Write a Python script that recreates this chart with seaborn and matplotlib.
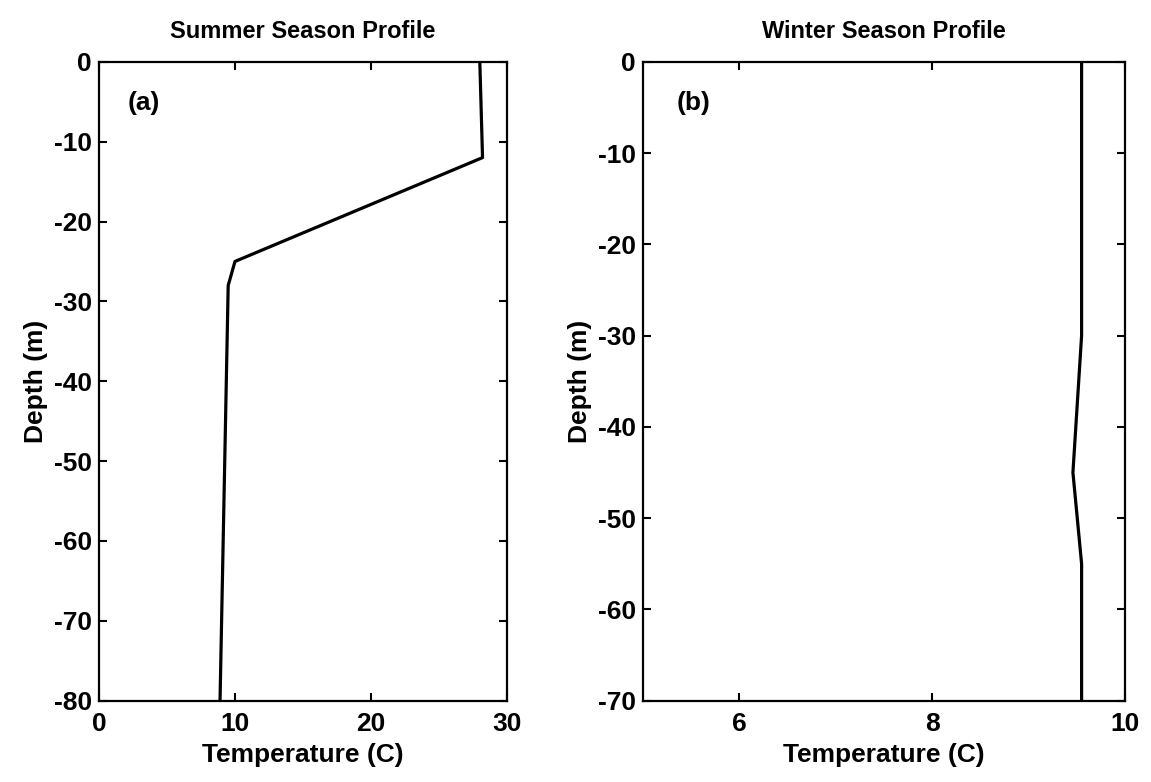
import matplotlib
matplotlib.use("Agg")
import matplotlib.pyplot as plt
import pandas as pd
import seaborn as sns

# summer profile (temperature in C, depth in m)
summer_temp = [28.0, 28.2, 10.0, 9.5, 8.9]
summer_depth = [0, -12, -25, -28, -80]

# winter profile
winter_temp = [9.55, 9.55, 9.46, 9.55, 9.55]
winter_depth = [0, -30, -45, -55, -70]

sns.set_style("ticks")
plt.rcParams["font.family"] = ["Liberation Sans", "DejaVu Sans"]
plt.rcParams["font.weight"] = "bold"
plt.rcParams["axes.unicode_minus"] = False
plt.rcParams["axes.linewidth"] = 1.6
plt.rcParams["text.color"] = "black"
plt.rcParams["axes.labelcolor"] = "black"
plt.rcParams["xtick.color"] = "black"
plt.rcParams["ytick.color"] = "black"

fig = plt.figure(figsize=(11.51, 7.82), dpi=100)
ax1 = fig.add_axes([0.086, 0.104, 0.3545, 0.817])
ax2 = fig.add_axes([0.5586, 0.104, 0.4188, 0.817])

summer = pd.DataFrame({"temp": summer_temp, "depth": summer_depth})
winter = pd.DataFrame({"temp": winter_temp, "depth": winter_depth})

sns.lineplot(data=summer, x="temp", y="depth", sort=False, estimator=None,
             color="black", linewidth=2.3, ax=ax1)
sns.lineplot(data=winter, x="temp", y="depth", sort=False, estimator=None,
             color="black", linewidth=2.3, ax=ax2)

panels = [
    (ax1, "Summer Season Profile", "(a)", (0, 30), [0, 10, 20, 30], (-80, 0), range(-80, 1, 10)),
    (ax2, "Winter Season Profile", "(b)", (5, 10), [6, 8, 10], (-70, 0), range(-70, 1, 10)),
]
for ax, title, tag, xlim, xticks, ylim, yticks in panels:
    ax.set_xlim(*xlim)
    ax.set_ylim(*ylim)
    ax.set_xticks(xticks)
    ax.set_yticks(list(yticks))
    ax.set_title(title, fontsize=17, fontweight="bold", pad=17)
    ax.set_xlabel("Temperature (C)", fontsize=19, fontweight="bold", labelpad=5)
    ax.set_ylabel("Depth (m)", fontsize=19, fontweight="bold", labelpad=4)
    ax.tick_params(direction="in", length=6, width=1.5, labelsize=19,
                   top=True, right=True)
    ax.tick_params(axis="x", pad=8)
    ax.tick_params(axis="y", pad=5)
    for lab in ax.get_xticklabels() + ax.get_yticklabels():
        lab.set_fontweight("bold")
    for s in ax.spines.values():
        s.set_visible(True)
        s.set_color("black")
    ax.text(0.07, 0.955, tag, transform=ax.transAxes, fontsize=19,
            fontweight="bold", va="top", ha="left")

fig.savefig("out.png", dpi=100)
